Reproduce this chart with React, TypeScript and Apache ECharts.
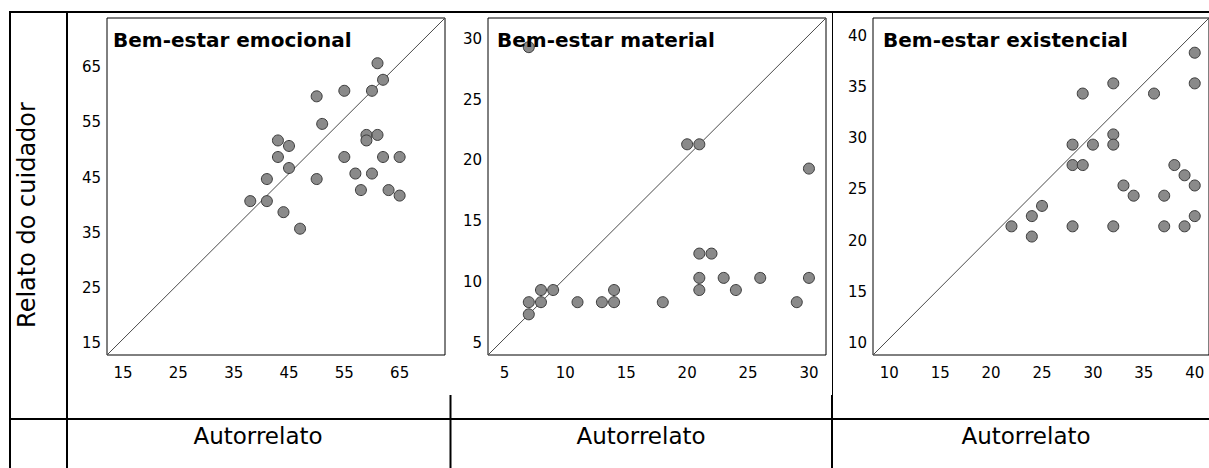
import React, { useEffect, useRef } from "react";
import * as echarts from "echarts";

// ---- Data ----
const panelTitles = ["Bem-estar emocional", "Bem-estar material", "Bem-estar existencial"];
const yAxisTitle = "Relato do cuidador";
const xAxisTitle = "Autorrelato";

const emocionalAuto = [61, 62, 60, 55, 50, 51, 59, 61, 59, 43, 45, 43, 55, 62, 65, 45, 41, 50, 57, 60, 58, 63, 65, 38, 41, 44, 47];
const emocionalCuid = [65, 62, 60, 60, 59, 54, 52, 52, 51, 51, 50, 48, 48, 48, 48, 46, 44, 44, 45, 45, 42, 42, 41, 40, 40, 38, 35];

const materialAuto = [7, 20, 21, 30, 21, 22, 7, 8, 7, 8, 9, 11, 13, 14, 14, 18, 21, 21, 23, 24, 26, 29, 30];
const materialCuid = [29, 21, 21, 19, 12, 12, 8, 8, 7, 9, 9, 8, 8, 8, 9, 8, 10, 9, 10, 9, 10, 8, 10];

const existencialAuto = [40, 40, 32, 29, 36, 32, 32, 28, 30, 28, 29, 38, 39, 40, 33, 34, 37, 25, 24, 40, 22, 28, 32, 37, 39, 24];
const existencialCuid = [38, 35, 35, 34, 34, 30, 29, 29, 29, 27, 27, 27, 26, 25, 25, 24, 24, 23, 22, 22, 21, 21, 21, 21, 21, 20];

const emocionalTicks = [15, 25, 35, 45, 55, 65];
const materialTicks = [5, 10, 15, 20, 25, 30];
const existencialTicks = [10, 15, 20, 25, 30, 35, 40];

const emocionalRange = [12.1, 73.2];
const materialRange = [3.65, 31.4];
const existencialRange = [8.4, 41.4];

// ---- Layout (positions / styles) ----
const FONT = '"DejaVu Sans", sans-serif';
const grids = [
  { left: 107, top: 18, width: 338, height: 337 },
  { left: 488, top: 18, width: 338, height: 337 },
  { left: 873, top: 18, width: 337, height: 337 },
];
const titlePos = [
  [113, 40],
  [497, 40],
  [883, 40],
];
const xTitleX = [258, 641, 1026];

export default function App() {
  const ref = useRef<HTMLDivElement>(null);

  useEffect(() => {
    const chart = echarts.init(ref.current!, null, { renderer: "svg" });

    const panels = [
      { x: emocionalAuto, y: emocionalCuid, ticks: emocionalTicks, range: emocionalRange },
      { x: materialAuto, y: materialCuid, ticks: materialTicks, range: materialRange },
      { x: existencialAuto, y: existencialCuid, ticks: existencialTicks, range: existencialRange },
    ];

    const labelStyle = { fontFamily: FONT, fontSize: 15, color: "#000" };

    const xAxes = panels.map((p, i) => ({
      gridIndex: i,
      type: "value",
      min: p.range[0],
      max: p.range[1],
      axisLine: { show: false },
      axisTick: { show: false },
      splitLine: { show: false },
      axisLabel: { ...labelStyle, customValues: p.ticks, margin: 10 },
    }));
    const yAxes = panels.map((p, i) => ({
      gridIndex: i,
      type: "value",
      min: p.range[0],
      max: p.range[1],
      axisLine: { show: false },
      axisTick: { show: false },
      splitLine: { show: false },
      axisLabel: { ...labelStyle, customValues: p.ticks, margin: 6, verticalAlign: "top", lineHeight: 8 },
    }));

    const series: any[] = [];
    panels.forEach((p, i) => {
      series.push({
        type: "line",
        xAxisIndex: i,
        yAxisIndex: i,
        data: [
          [p.range[0], p.range[0]],
          [p.range[1], p.range[1]],
        ],
        symbol: "none",
        silent: true,
        z: 1,
        lineStyle: { color: "#4a4a4a", width: 1 },
      });
      series.push({
        type: "scatter",
        xAxisIndex: i,
        yAxisIndex: i,
        data: p.x.map((v, k) => [v, p.y[k]]),
        symbol: "circle",
        symbolSize: 11,
        z: 3,
        itemStyle: { color: "#8a8a8a", borderColor: "#3a3a3a", borderWidth: 1, opacity: 1 },
      });
    });

    const line = (x1: number, y1: number, x2: number, y2: number, w: number) => ({
      type: "line",
      silent: true,
      shape: { x1, y1, x2, y2 },
      style: { stroke: "#000", lineWidth: w },
      z: 10,
    });

    const graphics: any[] = [
      line(10, 11, 10, 468, 2),
      line(9, 12, 1209, 12, 2),
      line(67, 12, 67, 468, 2),
      line(9, 419, 1209, 419, 2),
      line(450.5, 395, 450.5, 468, 2),
      line(832.5, 12, 832.5, 395, 1),
      line(832, 395, 832, 468, 2),
      {
        type: "text",
        x: 27,
        y: 215,
        rotation: Math.PI / 2,
        style: {
          text: yAxisTitle,
          fontFamily: FONT,
          fontSize: 24,
          fill: "#000",
          align: "center",
          verticalAlign: "middle",
        },
      },
    ];
    xTitleX.forEach((x) => {
      graphics.push({
        type: "text",
        x,
        y: 436,
        style: {
          text: xAxisTitle,
          fontFamily: FONT,
          fontSize: 23,
          fill: "#000",
          align: "center",
          verticalAlign: "middle",
        },
      });
    });
    panelTitles.forEach((t, i) => {
      graphics.push({
        type: "text",
        x: titlePos[i][0],
        y: titlePos[i][1],
        z: 20,
        style: {
          text: t,
          fontFamily: FONT,
          fontSize: 20,
          fontWeight: "bold",
          fill: "#000",
          align: "left",
          verticalAlign: "middle",
        },
      });
    });

    chart.setOption({
      animation: false,
      backgroundColor: "#fff",
      grid: grids.map((g) => ({
        ...g,
        show: true,
        borderColor: "#000",
        borderWidth: 1,
        backgroundColor: "transparent",
        containLabel: false,
      })),
      xAxis: xAxes,
      yAxis: yAxes,
      series,
      graphic: graphics,
    });

    return () => chart.dispose();
  }, []);

  return (
    <div
      ref={ref}
      style={{ position: "fixed", left: 0, top: 0, width: 1209, height: 468, background: "#fff" }}
    />
  );
}
